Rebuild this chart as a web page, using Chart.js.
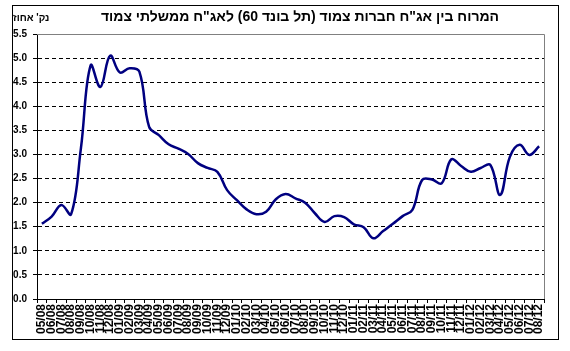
<!DOCTYPE html>
<html>
<head>
<meta charset="utf-8">
<script src="https://cdn.jsdelivr.net/npm/chart.js@4.4.1/dist/chart.umd.min.js"></script>
<style>
html,body{margin:0;padding:0;background:#fff;}
canvas{display:block;}
</style>
</head>
<body>
<canvas id="c" width="570" height="351"></canvas>
<script>
const categories = ["05/08","06/08","07/08","08/08","09/08","10/08","11/08","12/08",
  "01/09","02/09","03/09","04/09","05/09","06/09","07/09","08/09","09/09","10/09","11/09","12/09",
  "01/10","02/10","03/10","04/10","05/10","06/10","07/10","08/10","09/10","10/10","11/10","12/10",
  "01/11","02/11","03/11","04/11","05/11","06/11","07/11","08/11","09/11","10/11","11/11","12/11",
  "01/12","02/12","03/12","04/12","05/12","06/12","07/12","08/12"];
const spread = [1.56,1.71,1.95,1.76,3.12,4.85,4.40,5.05,
  4.70,4.79,4.72,3.57,3.40,3.21,3.12,3.01,2.82,2.72,2.64,2.26,
  2.05,1.86,1.76,1.81,2.07,2.18,2.09,2.00,1.78,1.60,1.72,1.70,
  1.55,1.49,1.26,1.41,1.56,1.72,1.85,2.47,2.48,2.40,2.90,2.76,
  2.64,2.72,2.78,2.16,2.95,3.20,2.99,3.17];
const yTicks = [0,0.5,1,1.5,2,2.5,3,3.5,4,4.5,5,5.5];
const titleText = 'המרוח בין אג"ח חברות צמוד (תל בונד 60) לאג"ח ממשלתי צמוד';
const yTitleText = "נק' אחוז";

const FONT = "'Liberation Sans', Arial, sans-serif";

const decor = {
  id: 'decor',
  beforeDraw(chart) {
    const ctx = chart.ctx;
    ctx.save();
    ctx.fillStyle = '#fff';
    ctx.fillRect(0, 0, chart.width, chart.height);
    ctx.restore();
  },
  afterDraw(chart) {
    const ctx = chart.ctx;
    const a = chart.chartArea;
    ctx.save();
    // plot border top/right grey
    ctx.strokeStyle = '#808080';
    ctx.lineWidth = 1;
    ctx.beginPath();
    ctx.moveTo(a.left, a.top + 0.5);
    ctx.lineTo(a.right + 0.5, a.top + 0.5);
    ctx.lineTo(a.right + 0.5, a.bottom);
    ctx.stroke();
    // outer frame
    ctx.strokeStyle = '#000';
    ctx.strokeRect(12.5, 5.5, 546, 334);
    // titles
    ctx.fillStyle = '#000';
    ctx.direction = 'rtl';
    ctx.textBaseline = 'middle';
    ctx.font = 'bold 14px ' + FONT;
    ctx.textAlign = 'center';
    ctx.fillText(titleText, 300, 17);
    ctx.font = 'bold 10px ' + FONT;
    ctx.textAlign = 'left';
    ctx.fillText(yTitleText, 13, 18);
    ctx.restore();
  }
};

new Chart(document.getElementById('c'), {
  type: 'line',
  data: {
    labels: categories,
    datasets: [{
      data: spread,
      borderColor: '#000080',
      borderWidth: 2.5,
      tension: 0.4,
      pointRadius: 0,
      fill: false
    }]
  },
  options: {
    responsive: false,
    animation: false,
    layout: { padding: { left: 12, top: 34, right: 26, bottom: 0 } },
    plugins: { legend: { display: false }, tooltip: { enabled: false }, title: { display: false } },
    scales: {
      x: {
        type: 'category',
        offset: true,
        grid: { offset: true, drawOnChartArea: false, drawTicks: true, tickLength: 4, tickColor: '#000', color: '#000' },
        border: { display: true, color: '#000', width: 1 },
        ticks: { autoSkip: false, maxRotation: 90, minRotation: 90, padding: 1, color: '#000',
                 font: { family: FONT, size: 12, weight: 'bold' } },
        afterFit(s) { s.height = 52; }
      },
      y: {
        min: 0, max: 5.5,
        afterBuildTicks(s) { s.ticks = yTicks.map(v => ({ value: v })); },
        grid: {
          color: (c) => (c.tick && (c.tick.value === 5.5 || c.tick.value === 0)) ? 'rgba(0,0,0,0)' : '#000',
          tickColor: '#000', tickLength: 4, lineWidth: 1
        },
        border: { display: true, color: '#000', width: 1, dash: [4, 3] },
        ticks: { padding: 6, color: '#000', font: { family: FONT, size: 10, weight: 'bold' },
                 callback: (v) => Number(v).toFixed(1) },
        afterFit(s) { s.width = 25; }
      }
    }
  },
  plugins: [decor]
});
</script>
</body>
</html>
